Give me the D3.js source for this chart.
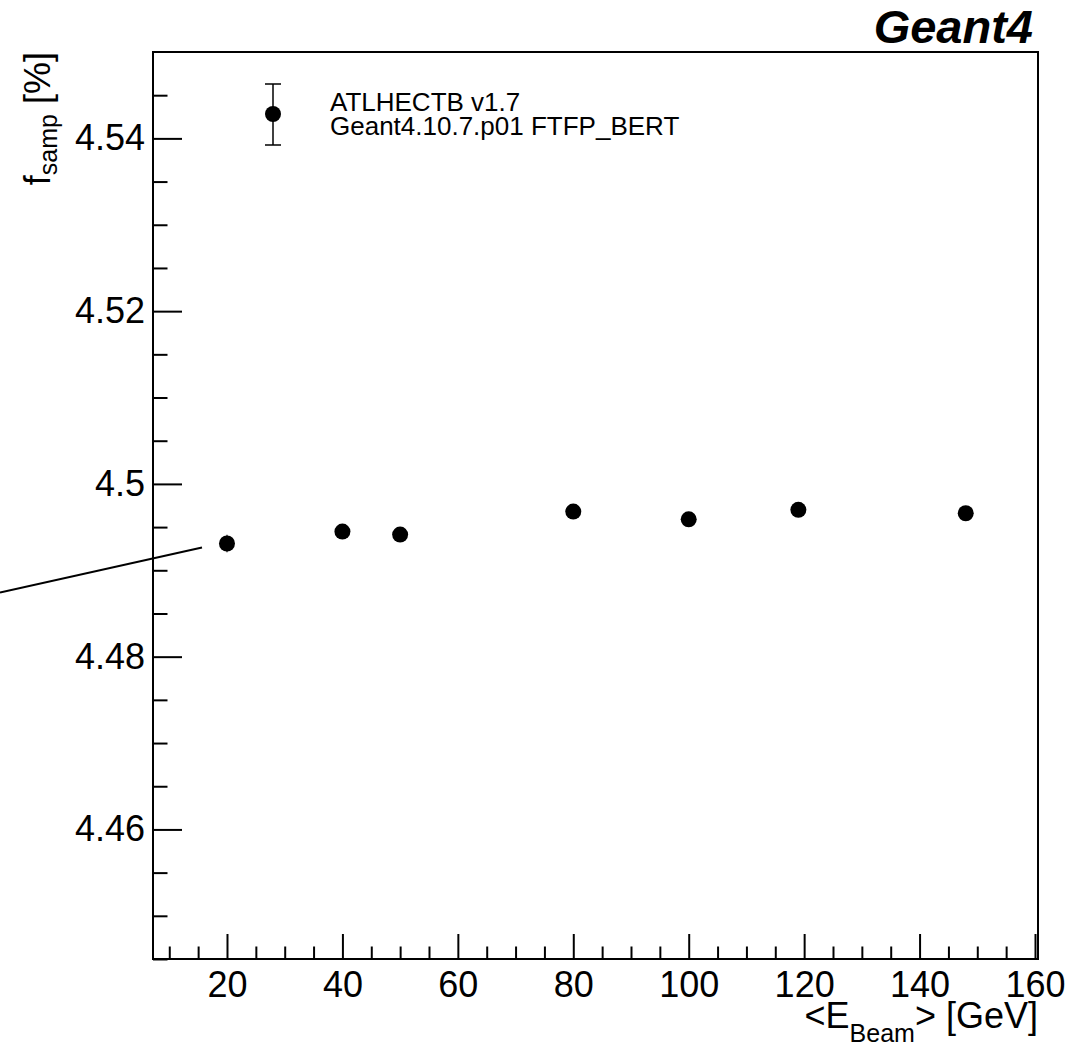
<!DOCTYPE html>
<html>
<head>
<meta charset="utf-8">
<script src="https://cdn.jsdelivr.net/npm/d3@7.9.0/dist/d3.min.js"></script>
<style>
  body { margin: 0; background: #fff; }
  svg { display: block; font-family: "Liberation Sans", Arial, Helvetica, sans-serif; }
  .axis path { stroke: #000; stroke-width: 2; }
  .axis line { stroke: #000; stroke-width: 2; }
</style>
</head>
<body>
<svg width="1089" height="1046"></svg>
<script>
// beam energies [GeV] and sampling fraction [%]
const energies = [20, 40, 50, 80, 100, 119, 148];
const fsamp = [4.4931, 4.49448, 4.49413, 4.4968, 4.4959, 4.4970, 4.4966];
const fsampErr = [0.0010, 0.0006, 0.0006, 0.0006, 0.0006, 0.0006, 0.0006];

const xMajor = [20, 40, 60, 80, 100, 120, 140, 160];
const yMajor = [4.46, 4.48, 4.5, 4.52, 4.54];

// stray line segment seen left of the frame (data coords)
const strayX = [-19.33, 15.67];
const strayY = [4.48742, 4.49263];

const legendLines = ["ATLHECTB v1.7", "Geant4.10.7.p01 FTFP_BERT"];

const svg = d3.select("svg");
const frame = { left: 153, right: 1038, top: 52, bottom: 959 };

const x = d3.scaleLinear().domain([7.18, 160.52]).range([frame.left, frame.right]);
const y = d3.scaleLinear().domain([4.445, 4.55]).range([frame.bottom, frame.top]);

// frame
svg.append("rect")
  .attr("x", frame.left).attr("y", frame.top)
  .attr("width", frame.right - frame.left).attr("height", frame.bottom - frame.top)
  .attr("fill", "none").attr("stroke", "#000").attr("stroke-width", 2);

// minor ticks
const xMinor = d3.range(10, 161, 5).filter(v => v % 20 !== 0);
const yMinor = d3.range(0, 22).map(i => +(4.445 + i * 0.005).toFixed(3))
  .filter(v => !yMajor.some(m => Math.abs(m - v) < 1e-6) && v < 4.55);

svg.append("g").attr("class", "axis")
  .attr("transform", `translate(0,${frame.bottom})`)
  .call(d3.axisBottom(x).tickValues(xMinor).tickSizeInner(-12.5).tickSizeOuter(0).tickFormat(""))
  .select(".domain").remove();

svg.append("g").attr("class", "axis")
  .attr("transform", `translate(${frame.left},0)`)
  .call(d3.axisLeft(y).tickValues(yMinor).tickSizeInner(-14.5).tickSizeOuter(0).tickFormat(""))
  .select(".domain").remove();

// major ticks + labels
const gx = svg.append("g").attr("class", "axis")
  .attr("transform", `translate(0,${frame.bottom})`)
  .call(d3.axisBottom(x).tickValues(xMajor).tickSizeInner(-25).tickSizeOuter(0).tickPadding(12).tickFormat(d3.format("d")));
gx.select(".domain").remove();
gx.selectAll("text").attr("font-size", 36).attr("fill", "#000").attr("font-family", null);

const gy = svg.append("g").attr("class", "axis")
  .attr("transform", `translate(${frame.left},0)`)
  .call(d3.axisLeft(y).tickValues(yMajor).tickSizeInner(-29).tickSizeOuter(0).tickPadding(8).tickFormat(d => String(+d.toFixed(2))));
gy.select(".domain").remove();
gy.selectAll("text").attr("font-size", 36).attr("fill", "#000").attr("font-family", null);

// axis titles
const xt = svg.append("text")
  .attr("x", frame.right).attr("y", 1028)
  .attr("text-anchor", "end").attr("font-size", 36);
xt.append("tspan").text("<E");
xt.append("tspan").attr("font-size", 25).attr("dy", 14).text("Beam");
xt.append("tspan").attr("dy", -14).text("> [GeV]");

const yt = svg.append("text")
  .attr("transform", `translate(50,${frame.top}) rotate(-90)`)
  .attr("text-anchor", "end").attr("font-size", 36);
yt.append("tspan").text("f");
yt.append("tspan").attr("font-size", 25).attr("dy", 7).text("samp");
yt.append("tspan").attr("dy", -7).text(" [%]");

// Geant4 label
svg.append("text")
  .attr("x", 1033).attr("y", 43)
  .attr("text-anchor", "end")
  .attr("font-size", 47).attr("font-weight", "bold").attr("font-style", "italic")
  .text("Geant4");

// stray line
svg.append("line")
  .attr("x1", x(strayX[0])).attr("y1", y(strayY[0]))
  .attr("x2", x(strayX[1])).attr("y2", y(strayY[1]))
  .attr("stroke", "#000").attr("stroke-width", 2);

// data points with error bars (drawn outside the marker only)
const r = 8;
const pts = energies.map((e, i) => ({ e, v: fsamp[i], err: fsampErr[i] }));
const gp = svg.append("g");
pts.forEach(d => {
  const cx = x(d.e), cy = y(d.v);
  const up = y(d.v + d.err), dn = y(d.v - d.err);
  if (cy - up > r) {
    gp.append("line").attr("x1", cx).attr("x2", cx).attr("y1", up).attr("y2", cy - r)
      .attr("stroke", "#000").attr("stroke-width", 2);
    gp.append("line").attr("x1", cx).attr("x2", cx).attr("y1", cy + r).attr("y2", dn)
      .attr("stroke", "#000").attr("stroke-width", 2);
  }
  gp.append("circle").attr("cx", cx).attr("cy", cy).attr("r", r).attr("fill", "#000");
});

// legend
const lg = svg.append("g");
const lx = 273, ly = 114;
lg.append("line").attr("x1", lx).attr("x2", lx).attr("y1", 84).attr("y2", 145)
  .attr("stroke", "#000").attr("stroke-width", 1.5);
[84, 145].forEach(cy => lg.append("line").attr("x1", lx - 8).attr("x2", lx + 8)
  .attr("y1", cy).attr("y2", cy).attr("stroke", "#000").attr("stroke-width", 1.5));
lg.append("circle").attr("cx", lx).attr("cy", ly).attr("r", r).attr("fill", "#000");
legendLines.forEach((t, i) => {
  lg.append("text").attr("x", 330).attr("y", 111 + i * 24)
    .attr("font-size", 26).text(t);
});
</script>
</body>
</html>
